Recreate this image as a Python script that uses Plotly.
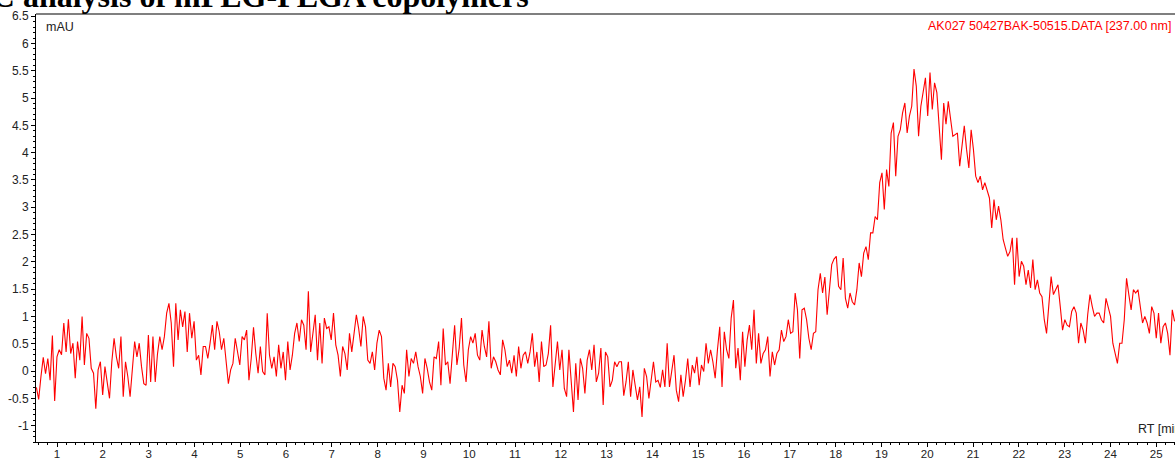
import numpy as np
import plotly.graph_objects as go

# Retention-time window (min) and detector trace (mAU), sampled every 0.05 min
rt_start, rt_end = 0.55, 25.40

mau_a = [-0.30, -0.52, -0.10, 0.25, -0.05, 0.23, -0.17, 0.65, -0.55, 0.26,
         0.39, 0.30, 0.88, 0.35, 0.95, 0.32, 0.51, -0.13, 0.54, 0.20,
         1.00, 0.11, 0.69, 0.60, 0.05, -0.04, -0.69, 0.02, 0.17, -0.44,
         0.08, -0.17, -0.50, 0.17, 0.60, 0.26, 0.05, 0.63, -0.47, 0.17,
         -0.10, -0.47, 0.05, 0.54, 0.26, 0.51, 0.08, -0.23, -0.26, 0.66,
         -0.20, 0.63, -0.20, 0.32, 0.63, 0.39, 0.63, 1.06, 1.24, 0.88,
         0.08, 1.24, 0.57, 1.12, 0.81, 1.09, 0.35, 1.06, 0.60, 0.91,
         0.20, 0.29, -0.07, 0.45, 0.45, 0.23, 0.51, 0.84, 0.39, 0.91,
         0.72, 0.39, 0.60, 0.17, -0.23, 0.02]

mau_b = [0.14, 0.60, 0.32, 0.11, 0.63, 0.57, 0.75, -0.17, 0.23, 0.80,
         0.32, -0.04, 0.45, -0.01, -0.07, 1.06, 0.29, 0.05, 0.26, -0.10,
         0.48, 0.05, 0.35, -0.17, 0.54, 0.02, 0.29, 0.69, 0.88, 0.54,
         0.94, 0.84, 0.39, 1.46, 0.35, 0.75, 1.03, 0.20, 0.88, 0.14,
         0.97, 0.78, 0.81, 0.57, 1.06, 0.48, 0.29, -0.10, 0.45, 0.32,
         0.02, 0.69, 0.35, 0.69, 1.03, 0.78, 0.45, 1.00, 0.81, 0.20,
         0.14, 0.35, 0.02, 0.51, 0.75, 0.63, -0.13, -0.35, 0.14, -0.29,
         0.14, 0.08, -0.17, -0.75, -0.26, -0.41, 0.39, -0.10, 0.23, 0.14,
         0.35, 0.08, -0.10, -0.41, 0.23, 0.05, -0.20]

mau_c = [-0.35, 0.26, 0.23, 0.54, -0.26, 0.78, 0.11, 0.17, -0.23, 0.26,
         0.84, 0.11, 0.42, 0.97, 0.11, -0.20, 0.39, 0.63, 0.51, 0.69,
         0.29, 0.20, 0.75, 0.45, 0.26, 0.91, 0.05, 0.26, 0.17, 0.02,
         -0.07, 0.57, 0.39, 0.08, 0.20, -0.04, 0.29, -0.10, 0.45, 0.05,
         0.29, 0.35, 0.14, 0.35, 0.69, 0.08, 0.35, -0.20, 0.54, 0.08,
         0.11, 0.32, 0.84, -0.29, 0.14, 0.54, 0.02, 0.39, -0.32, -0.47,
         0.39, -0.10, -0.75, 0.14, -0.53, 0.23, 0.05, -0.41, 0.20, 0.39,
         0.02, 0.48, -0.20, -0.04, 0.42, -0.62, 0.35, 0.26, -0.29, -0.17,
         0.17, 0.08, 0.17, 0.17, -0.45]

mau_d = [-0.20, 0.17, -0.47, 0.02, -0.26, -0.53, -0.29, -0.84, 0.05, -0.10,
         -0.50, -0.10, 0.17, -0.20, -0.17, -0.30, 0.02, -0.29, 0.51, -0.29,
         0.05, 0.29, -0.35, -0.56, -0.07, -0.47, -0.17, 0.23, -0.29, 0.11,
         -0.04, 0.26, -0.26, 0.11, -0.01, 0.51, 0.14, 0.39, 0.17, -0.13,
         0.39, 0.81, -0.29, 0.72, 0.39, 0.23, 0.97, 1.30, 0.05, 0.42,
         -0.17, 0.72, 0.08, 0.57, 0.84, 0.39, 1.12, 0.14, 0.69, 0.14,
         0.32, 0.39, 0.63, -0.10, 0.35, 0.11, 0.32, 0.39, 0.75, 0.54,
         0.63, 0.94, 0.69, 0.72, 1.43, 1.12, 0.23, 1.12, 1.15, 0.94,
         0.60, 0.39, 0.69, 0.72]

mau_e = [1.49, 1.79, 1.43, 1.72, 1.03, 1.55, 1.95, 2.05, 2.10, 1.55,
         1.49, 2.07, 1.33, 1.15, 1.43, 1.27, 1.21, 1.49, 1.98, 1.73,
         2.16, 2.28, 2.04, 2.53, 2.53, 2.83, 2.77, 3.45, 3.63, 2.96,
         3.69, 3.38, 4.36, 4.55, 3.57, 4.30, 4.42, 4.73, 4.91, 4.36,
         4.67, 4.85, 5.53, 5.22, 4.30, 4.85, 5.10, 5.37, 4.67, 5.47,
         4.79, 5.28, 5.10, 4.42, 3.87, 4.91, 4.52, 4.94, 4.61, 4.30,
         4.33, 4.36, 3.75, 4.12, 4.49, 4.06, 3.72, 4.42, 4.06, 3.57,
         3.45, 3.57, 3.32, 3.45, 3.32, 3.17, 2.62, 3.14, 2.77, 3.02]

mau_f = [2.77, 2.41, 2.25, 2.10, 2.19, 2.44, 1.58, 2.44, 1.73, 2.01,
         1.92, 1.58, 1.85, 1.52, 2.04, 1.49, 1.67, 1.43, 1.36, 0.94,
         0.69, 1.18, 1.73, 1.40, 1.49, 1.58, 1.18, 0.75, 0.94, 0.84,
         0.81, 1.09, 1.18, 1.06, 0.51, 0.88, 0.75, 0.51, 1.03, 1.40,
         1.18, 1.00, 1.06, 1.06, 0.94, 0.88, 1.33, 1.18, 1.00, 0.51,
         0.29, 0.14, 0.51, 0.51, 0.94, 1.70, 1.40, 1.12, 1.49, 1.43,
         1.49, 1.18, 0.88, 1.00, 0.88, 0.69, 1.18, 1.06, 0.60, 1.06,
         0.51, 0.81, 0.88, 0.69, 0.29, 1.12, 0.91]

x_ticks = list(range(1, 26))
x_labels = [str(v) for v in x_ticks]
y_ticks = [-1, -0.5, 0, 0.5, 1, 1.5, 2, 2.5, 3, 3.5, 4, 4.5, 5, 5.5, 6, 6.5]
y_labels = ["-1", "-0.5", "0", "0.5", "1", "1.5", "2", "2.5", "3", "3.5",
            "4", "4.5", "5", "5.5", "6", "6.5"]

title_text = "HPLC analysis of mPEG-PLGA copolymers"
trace_label = "AK027 50427BAK-50515.DATA [237.00 nm]"

mau = np.array(mau_a + mau_b + mau_c + mau_d + mau_e + mau_f)
rt = np.linspace(rt_start, rt_end, len(mau))

fig = go.Figure()
fig.add_trace(go.Scatter(x=rt, y=mau, mode="lines",
                         line=dict(color="#ff0000", width=1.1),
                         showlegend=False, hoverinfo="skip"))

sans = "Liberation Sans, Arial, sans-serif"
xfont = dict(family=sans, size=11.5, color="#222222")
yfont = dict(family=sans, size=12, color="#222222")

W, H = 1175, 458
L, T, B = 36, 14, 16
PW, PH = W - L, H - T - B


def px(xp):
    return (xp - L) / PW


def py(yp):
    return 1 - (yp - T) / PH


fig.update_layout(
    width=W, height=H,
    margin=dict(l=L, r=0, t=T, b=B, autoexpand=False),
    paper_bgcolor="white", plot_bgcolor="white",
    xaxis=dict(range=[0.5415, 25.41], showgrid=False, zeroline=False,
               showline=True, linecolor="black", linewidth=1,
               tickmode="array", tickvals=x_ticks, ticktext=x_labels,
               ticks="outside", ticklen=4, tickcolor="black", tickwidth=1,
               tickfont=xfont, automargin=False, ticklabelstandoff=-3,
               minor=dict(dtick=0.2, tick0=0, ticks="outside", ticklen=2,
                          tickcolor="black", tickwidth=1, showgrid=False)),
    yaxis=dict(range=[-1.30, 6.54], showgrid=False, zeroline=False,
               showline=True, linecolor="black", linewidth=1,
               tickmode="array", tickvals=y_ticks, ticktext=y_labels,
               ticks="outside", ticklen=4, tickcolor="black", tickwidth=1,
               tickfont=yfont, automargin=False,
               minor=dict(dtick=0.1, tick0=0, ticks="outside", ticklen=2,
                          tickcolor="black", tickwidth=1, showgrid=False)),
    shapes=[dict(type="line", xref="paper", yref="paper", x0=0, x1=1.02, y0=1, y1=1,
                 line=dict(color="#555555", width=1.5))],
    annotations=[
        dict(text="<b>" + title_text + "</b>", xref="paper", yref="paper",
             x=px(531), y=1.043, xanchor="right", yanchor="middle",
             showarrow=False,
             font=dict(family="Liberation Serif, Times New Roman, serif", size=32, color="black")),
        dict(text="mAU", xref="paper", yref="paper", x=px(44), y=py(27),
             xanchor="left", yanchor="middle", showarrow=False,
             font=dict(family=sans, size=12.5, color="#222222")),
        dict(text=trace_label, xref="paper", yref="paper", x=px(926), y=py(26),
             xanchor="left", yanchor="middle", showarrow=False,
             font=dict(family=sans, size=12.5, color="#ff0000")),
        dict(text="RT [min]", xref="paper", yref="paper", x=px(1136), y=py(429),
             xanchor="left", yanchor="middle", showarrow=False,
             font=dict(family=sans, size=12.5, color="#222222")),
    ],
)

fig.write_html("out.html", config={"displayModeBar": False},
               post_script="document.body.style.margin='0';document.body.style.overflow='hidden';")
